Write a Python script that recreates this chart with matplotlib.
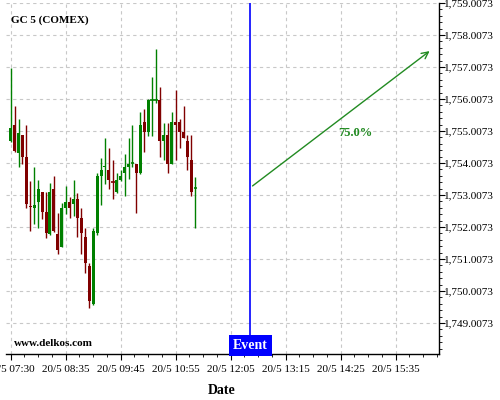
import numpy as np
import matplotlib
matplotlib.use('Agg')
import matplotlib.pyplot as plt
from matplotlib.ticker import FuncFormatter, AutoMinorLocator

plt.rcParams['font.family'] = ['Liberation Serif', 'DejaVu Serif']

# 5 minute candles from 20/5 07:30
step_min = 5
opens = [1754.70, 1755.19, 1754.31, 1754.88, 1754.20, 1752.66, 1752.60, 1752.80,
         1753.10, 1752.48, 1751.79, 1753.19, 1751.78, 1751.39, 1752.61, 1752.78,
         1752.72, 1752.88, 1752.30, 1751.70, 1750.79, 1749.60, 1751.81, 1753.60,
         1753.87, 1753.79, 1753.43, 1753.11, 1753.48, 1753.70, 1753.89, 1754.00,
         1753.97, 1753.70, 1755.30, 1754.99, 1755.98, 1755.98, 1755.99, 1754.70,
         1754.88, 1753.98, 1755.29, 1755.30, 1754.98, 1754.70, 1754.10, 1753.23]
highs = [1756.97, 1755.79, 1755.37, 1754.88, 1755.19, 1753.45, 1753.87, 1753.48,
         1753.11, 1753.09, 1753.37, 1753.59, 1752.45, 1752.77, 1753.29, 1752.95,
         1753.47, 1753.08, 1752.59, 1751.99, 1750.87, 1751.97, 1753.69, 1754.18,
         1754.78, 1754.47, 1754.10, 1753.69, 1753.79, 1754.29, 1754.78, 1755.20,
         1753.98, 1755.61, 1755.69, 1756.00, 1756.69, 1757.56, 1756.37, 1755.27,
         1755.27, 1755.60, 1756.29, 1755.37, 1755.78, 1754.88, 1754.88, 1753.58]
lows = [1754.67, 1754.36, 1753.87, 1753.97, 1752.59, 1751.88, 1752.10, 1751.97,
        1752.25, 1751.67, 1751.76, 1751.86, 1751.18, 1751.37, 1752.43, 1752.28,
        1752.35, 1751.70, 1751.18, 1750.58, 1749.47, 1749.58, 1751.76, 1752.70,
        1753.35, 1753.19, 1752.87, 1753.08, 1753.46, 1752.98, 1753.50, 1753.87,
        1752.45, 1753.68, 1754.36, 1754.85, 1754.86, 1755.87, 1754.19, 1754.10,
        1753.69, 1753.97, 1754.10, 1754.47, 1754.78, 1753.78, 1752.98, 1751.97]
closes = [1755.09, 1754.39, 1754.95, 1754.20, 1752.72, 1752.62, 1752.70, 1753.19,
          1752.48, 1751.81, 1753.09, 1751.88, 1751.30, 1752.59, 1752.78, 1752.61,
          1752.88, 1752.30, 1751.81, 1750.89, 1749.70, 1751.88, 1753.60, 1753.79,
          1753.91, 1753.48, 1753.40, 1753.48, 1753.60, 1753.89, 1753.98, 1754.02,
          1753.70, 1755.20, 1754.99, 1755.98, 1756.00, 1756.00, 1754.70, 1754.88,
          1753.98, 1755.29, 1755.20, 1754.99, 1754.80, 1754.20, 1753.11, 1753.24]

tick_labels = ['20/5 07:30', '20/5 08:35', '20/5 09:45', '20/5 10:55',
               '20/5 12:05', '20/5 13:15', '20/5 14:25', '20/5 15:35']
event_min = 305          # 12:35
arrow_start = 1753.24
arrow_end_min = 536      # ~16:26
arrow_end = 1757.56
pct_text = '75.0%'

t = np.arange(len(opens)) * step_min

fig = plt.figure(figsize=(5, 4), dpi=100)
ax = fig.add_axes([0.011, 0.115, 0.866, 0.8775])

green = '#008000'
red = '#800000'
for x, o, h, l, c in zip(t, opens, highs, lows, closes):
    col = green if c >= o else red
    ax.vlines(x, l, h, color=col, lw=1.0, zorder=3)
    lo, hi = min(o, c), max(o, c)
    if hi - lo < 0.04:
        ax.hlines((o + c) / 2, x - 2.2, x + 2.2, color=col, lw=1.2, zorder=3)
    else:
        ax.bar(x, hi - lo, bottom=lo, width=3.8, color=col, zorder=3, linewidth=0)

ymin, ymax = 1748.04, 1759.01
ax.set_xlim(-6.6, 544.5)
ax.set_ylim(ymin, ymax)

ax.set_xticks(np.arange(len(tick_labels)) * 70)
ax.set_xticklabels(tick_labels)
ax.xaxis.set_minor_locator(AutoMinorLocator(4))
ax.set_yticks(np.arange(1749, 1760) + 0.0073)
ax.yaxis.set_minor_locator(AutoMinorLocator(5))
ax.yaxis.set_major_formatter(FuncFormatter(lambda v, p: '{:,.4f}'.format(v)))
ax.yaxis.tick_right()
ax.tick_params(axis='both', which='major', labelsize=8, length=4, width=0.8, direction='out')
ax.tick_params(axis='both', which='minor', length=2.5, width=0.6, direction='out')
ax.tick_params(axis='y', pad=0)
ax.tick_params(axis='x', pad=4)

for s in ['top', 'left']:
    ax.spines[s].set_visible(False)
for s in ['bottom', 'right']:
    ax.spines[s].set_linewidth(1.0)

ax.grid(True, which='major', color='#c8c8c8', linestyle=(0, (3, 3)), lw=0.8)
ax.set_axisbelow(True)

ax.axvline(event_min, color='#0000ff', lw=1.2, zorder=4)
ax.text(event_min, ymin + 0.07, 'Event', color='white', fontsize=10, fontweight='bold',
        ha='center', va='bottom', zorder=5,
        bbox=dict(boxstyle='square,pad=0.28', fc='#0000ff', ec='none'))

ax.annotate('', xy=(arrow_end_min, arrow_end), xytext=(event_min, arrow_start),
            arrowprops=dict(arrowstyle='->', color='#228b22', lw=1.0, mutation_scale=12))
ax.text(439, 1754.94, pct_text, color='#228b22', fontsize=9,
        fontweight='bold', ha='center', va='center')

ax.text(0.012, 0.95, 'GC 5 (COMEX)', transform=ax.transAxes, fontsize=8,
        fontweight='bold', ha='left', va='center')
ax.text(0.02, 0.018, 'www.delkos.com', transform=ax.transAxes, fontsize=8,
        fontweight='bold', ha='left', va='bottom')
ax.set_xlabel('Date', fontsize=10, fontweight='bold', labelpad=7)

fig.savefig('out.png', dpi=100)
